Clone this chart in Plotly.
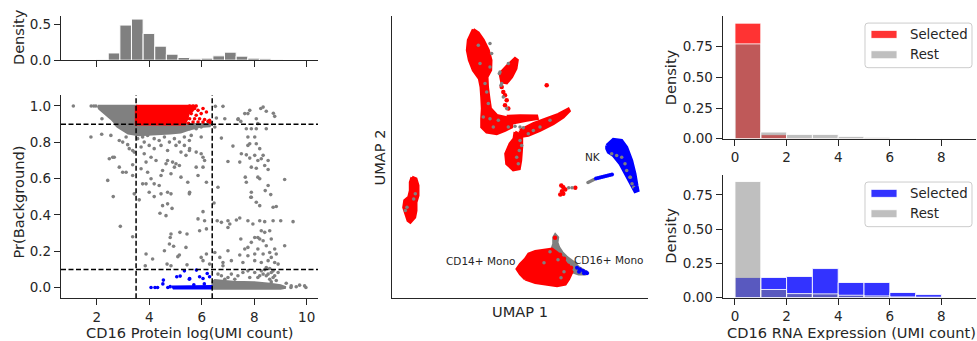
import numpy as np
import plotly.graph_objects as go

W, H = 977, 341          # reference picture size
H_FIG = 350              # page height (the capture is squeezed back to 341)
SY = H_FIG / H
FONT = "DejaVu Sans"
TXT = "#262626"

# ---------------- data: protein histogram (top left) ----------------
protein_bin_start = 1.11
protein_bin_width = 0.443
protein_density = [0.004, 0.004, 0.005, 0.100, 0.486, 0.569, 0.370, 0.194, 0.083, 0.037,
                   0.019, 0.028, 0.060, 0.111, 0.056, 0.028, 0.019, 0.005, 0.004, 0.004]

# ---------------- data: protein vs Pr(background) scatter ----------------
thr_protein_low = 3.5
thr_protein_high = 6.4
thr_prob_low = 0.1
thr_prob_high = 0.9

# dense clouds (outlines)
gray_block_x = [2.05, 3.5, 3.5, 2.75, 2.55, 2.3, 2.1]
gray_block_y = [1.0, 1.0, 0.9, 0.9, 0.93, 0.958, 0.985]
gray_band_x = [2.7, 6.35, 6.3, 5.9, 5.5, 5.2, 4.8, 4.2, 3.6, 3.2, 2.95, 2.8]
gray_band_y = [0.9, 0.9, 0.89, 0.885, 0.87, 0.855, 0.85, 0.845, 0.84, 0.85, 0.87, 0.885]
gray_floor_x = [6.42, 9.0, 9.2, 9.0, 8.6, 8.0, 7.2, 6.8, 6.5, 6.42]
gray_floor_y = [-0.006, -0.006, 0.0, 0.012, 0.02, 0.028, 0.03, 0.035, 0.04, 0.03]
red_block_x = [3.5, 5.75, 5.65, 5.5, 5.45, 5.35, 3.5]
red_block_y = [1.0, 1.0, 0.975, 0.96, 0.93, 0.9, 0.9]
blue_floor_x = [4.9, 6.38, 6.38, 4.9]
blue_floor_y = [-0.006, -0.006, 0.008, 0.006]

gray_points = [
    (1.11, 1.0), (1.79, 1.0), (1.89, 1.0), (1.97, 1.0), (2.2, 0.93), (1.78, 0.829), (2.19, 0.844), (2.54, 0.838),
    (2.61, 0.718), (2.67, 0.718), (2.48, 0.709), (3.18, 0.787), (3.24, 0.765), (3.37, 0.755), (3.43, 0.746),
    (2.86, 0.663), (2.99, 0.635), (3.12, 0.635), (3.37, 0.676), (3.37, 0.617), (2.42, 0.59), (2.63, 0.501),
    (3.43, 0.516), (3.69, 0.774), (3.81, 0.801), (4.0, 0.783), (4.07, 0.718), (3.88, 0.691), (3.69, 0.654),
    (3.94, 0.635), (4.07, 0.599), (3.75, 0.571), (3.88, 0.571), (4.0, 0.525), (4.19, 0.571), (4.38, 0.562),
    (4.45, 0.617), (4.51, 0.645), (4.64, 0.682), (4.70, 0.7), (4.83, 0.627), (4.89, 0.691), (4.96, 0.663),
    (5.02, 0.682), (5.15, 0.672), (4.70, 0.525), (4.83, 0.516), (5.21, 0.746), (5.34, 0.783), (5.40, 0.728),
    (5.53, 0.755), (5.47, 0.58), (5.53, 0.516), (5.21, 0.608), (4.45, 0.516), (4.26, 0.7),
    (2.86, 0.81), (2.99, 0.801), (3.12, 0.829), (3.56, 0.82), (3.75, 0.829), (3.94, 0.838), (4.19, 0.82),
    (4.38, 0.81), (4.58, 0.829), (4.77, 0.801), (4.96, 0.82), (5.15, 0.801), (5.34, 0.829), (5.53, 0.81),
    (4.19, 0.765), (4.45, 0.783), (4.70, 0.755), (5.02, 0.783), (3.81, 0.737),
    (5.54, 0.875), (5.67, 0.884), (5.79, 0.875), (5.98, 0.884), (5.6, 0.838), (5.98, 0.829), (5.54, 0.765),
    (5.79, 0.746), (5.98, 0.737), (6.05, 0.718), (5.79, 0.663), (6.05, 0.663), (5.86, 0.617), (6.18, 0.58),
    (6.11, 0.7), (5.54, 0.525),
    (6.52, 0.998), (6.81, 0.998), (6.56, 0.934), (6.88, 0.93), (6.50, 0.884), (6.75, 0.823), (7.38, 0.926),
    (7.49, 0.915), (7.64, 0.958), (7.76, 0.958), (7.83, 0.976), (8.08, 0.93), (8.25, 0.986), (8.34, 0.994),
    (8.46, 0.971), (8.78, 0.943), (7.70, 0.875), (7.89, 0.875), (8.08, 0.875), (8.46, 0.875), (8.14, 0.903),
    (7.76, 0.829), (8.02, 0.829), (7.19, 0.779), (7.83, 0.792), (7.76, 0.783), (8.08, 0.792), (8.21, 0.765),
    (7.51, 0.737), (7.70, 0.731), (7.83, 0.713), (8.02, 0.728), (8.14, 0.7), (8.34, 0.728), (8.27, 0.709),
    (8.53, 0.7), (7.0, 0.694), (7.45, 0.691), (7.89, 0.663), (8.08, 0.657), (8.40, 0.672), (8.53, 0.65),
    (7.66, 0.608), (7.70, 0.58), (8.14, 0.608), (8.21, 0.599), (8.53, 0.562), (9.16, 0.595), (6.62, 0.552),
    (7.89, 0.525), (7.87, 0.497), (8.42, 0.534), (8.63, 0.512), (8.73, 0.96), (7.39, 0.93),
    (2.90, 0.337), (3.37, 0.28), (3.62, 0.483), (4.19, 0.501), (4.51, 0.451), (4.70, 0.461),
    (4.87, 0.436), (4.41, 0.409), (4.64, 0.396), (4.83, 0.295), (4.80, 0.276), (5.17, 0.304), (5.44, 0.295),
    (4.77, 0.24), (4.93, 0.227), (4.58, 0.203), (5.40, 0.221), (3.88, 0.185), (4.13, 0.157), (5.09, 0.17),
    (5.15, 0.179), (4.68, 0.129), (4.83, 0.12), (3.85, 0.12), (5.44, 0.125),
    (6.05, 0.418), (5.86, 0.378), (6.11, 0.368), (5.92, 0.313), (6.18, 0.323), (5.98, 0.166), (6.05, 0.148),
    (6.18, 0.185), (6.30, 0.129),
    (7.89, 0.497), (6.47, 0.466), (8.08, 0.47), (8.21, 0.451), (8.72, 0.442), (8.84, 0.446), (6.75, 0.359),
    (6.59, 0.368), (7.0, 0.368), (7.07, 0.35), (7.32, 0.372), (7.45, 0.383), (7.0, 0.331), (7.76, 0.368),
    (8.21, 0.368), (7.95, 0.35), (8.40, 0.363), (8.72, 0.368), (9.01, 0.368), (9.48, 0.363), (8.27, 0.313),
    (8.40, 0.304), (8.59, 0.313), (7.49, 0.267), (8.02, 0.276), (8.14, 0.276), (8.21, 0.267), (7.89, 0.249),
    (8.34, 0.258), (8.65, 0.267), (8.46, 0.23), (8.78, 0.212), (9.16, 0.23), (7.76, 0.221), (7.64, 0.212),
    (8.14, 0.212), (7.45, 0.179), (7.76, 0.175), (8.02, 0.185), (8.34, 0.185), (8.59, 0.193), (8.84, 0.185),
    (6.50, 0.193), (6.69, 0.166), (7.0, 0.203), (6.81, 0.138), (6.81, 0.12), (7.13, 0.148), (7.57, 0.138),
    (8.02, 0.148), (8.27, 0.138), (8.53, 0.148), (8.65, 0.166), (8.78, 0.138), (8.91, 0.129),
    (6.62, 0.074), (6.75, 0.065), (7.0, 0.055), (7.13, 0.074), (7.38, 0.065), (7.57, 0.083), (7.76, 0.092),
    (8.02, 0.083), (8.27, 0.092), (8.46, 0.11), (8.53, 0.074), (8.72, 0.092), (8.78, 0.065), (8.91, 0.083),
    (8.14, 0.055), (7.83, 0.055), (7.26, 0.046), (6.88, 0.046), (8.59, 0.046), (8.65, 0.031), (9.22, 0.024),
    (9.41, 0.009), (9.73, 0.013), (9.92, 0.009), (9.97, 0.0), (8.40, 0.098), (8.59, 0.105), (8.65, 0.083),
    (8.34, 0.074), (8.46, 0.065), (8.21, 0.065), (8.72, 0.055), (8.84, 0.039), (9.4, 0.0), (9.6, 0.004),
]
red_points = [
    (5.54, 1.0), (5.67, 1.0), (5.79, 1.0), (5.73, 0.986), (5.86, 0.976), (6.05, 0.986), (5.98, 0.958),
    (6.18, 0.967), (5.60, 0.958), (5.79, 0.949), (5.54, 0.93), (5.73, 0.93), (5.92, 0.93), (6.11, 0.926),
    (6.24, 0.915), (6.30, 0.921), (6.05, 0.912), (5.67, 0.912), (5.86, 0.912), (6.32, 0.91), (5.5, 0.905),
]
blue_points = [
    (4.07, 0.0), (4.22, 0.0), (4.32, 0.0), (4.52, 0.02), (4.54, 0.041), (4.71, 0.0), (4.8, 0.005),
    (5.05, 0.059), (5.18, 0.063), (5.34, 0.092), (5.53, 0.046), (5.54, 0.05), (5.80, 0.096), (5.92, 0.059),
    (6.05, 0.05), (6.21, 0.077), (6.30, 0.059), (6.1, 0.02), (5.7, 0.015),
]

# ---------------- data: UMAP embedding ----------------
umapA1_u1 = [8.13, 8.63, 9.13, 9.63, 9.9, 9.87, 9.5, 9.55, 9.7, 9.85, 10.47, 11.47, 11.97, 11.97, 11.3,
             10.47, 9.47, 8.97, 8.97, 9.03, 8.97, 8.9, 8.73, 8.13, 7.73, 7.53, 7.63]
umapA1_u2 = [26.77, 26.43, 25.7, 24.7, 23.7, 22.7, 22.03, 21.03, 19.87, 18.87, 18.2, 17.97, 17.7, 17.03, 16.7,
             16.37, 16.53, 17.03, 17.87, 18.87, 20.03, 21.03, 21.87, 22.7, 23.7, 24.7, 25.7]
umapA2_u1 = [11.47, 12.8, 14.47, 14.53, 13.47, 12.47, 11.8]
umapA2_u2 = [18.1, 18.17, 18.13, 17.87, 17.7, 17.53, 17.37]
umapA3_u1 = [12.8, 14.13, 15.47, 16.63, 17.63, 17.73, 17.13, 16.13, 14.8, 13.63, 12.97]
umapA3_u2 = [16.7, 17.37, 17.87, 18.3, 18.83, 18.63, 18.03, 17.37, 16.7, 16.2, 16.1]
umapA4_u1 = [12.3, 12.97, 12.97, 12.87, 12.73, 12.13, 11.47, 11.37, 11.8, 12.2]
umapA4_u2 = [16.53, 16.2, 15.03, 13.7, 12.87, 12.77, 13.37, 14.37, 15.37, 15.87]
umapA5_u1 = [10.8, 11.47, 12.3, 12.53, 12.4, 11.97, 11.47, 10.97]
umapA5_u2 = [22.37, 23.1, 23.87, 23.7, 22.87, 22.03, 21.43, 21.53]
umapL_u1 = [2.0, 2.4, 2.6, 2.6, 2.4, 2.4, 2.27, 1.83, 1.6, 1.4, 1.17, 1.27, 1.67, 1.83, 1.83]
umapL_u2 = [12.03, 11.87, 11.2, 10.2, 9.53, 8.7, 8.03, 7.53, 7.7, 8.37, 9.03, 9.7, 10.03, 10.7, 11.53]
umapMono_u1 = [13.33, 12.83, 12.5, 12.83, 13.33, 13.67, 14.33, 15.33, 16.0, 16.5, 17.0, 17.5, 18.0, 17.67,
               17.33, 16.5, 15.5, 14.33]
umapMono_u2 = [1.87, 2.37, 2.87, 3.37, 3.87, 4.37, 4.63, 4.77, 4.87, 4.5, 4.0, 3.3, 2.6, 1.87, 1.37, 1.2,
               1.37, 1.53]
umapMonoTail_u1 = [16.0, 16.17, 16.17, 16.33, 16.57, 16.5, 16.67, 17.0, 17.5, 18.17, 18.67, 19.17, 19.5,
                   19.33, 18.67, 18.0, 17.5, 17.0, 16.5]
umapMonoTail_u2 = [4.87, 5.37, 6.03, 6.3, 6.03, 5.53, 5.03, 4.53, 4.03, 3.53, 3.03, 2.7, 2.53, 2.37, 2.37,
                   2.6, 3.3, 4.0, 4.5]
umapNK_u1 = [21.47, 22.13, 22.97, 23.47, 23.97, 24.3, 24.5, 24.6, 24.3, 23.9, 23.33, 23.0, 22.8, 22.13,
             21.63, 21.47]
umapNK_u2 = [15.2, 15.8, 15.7, 15.03, 13.7, 12.37, 11.2, 10.7, 10.6, 11.3, 12.37, 13.0, 13.37, 14.2,
             14.53, 14.87]

umap_gray_points = [
    (9.8, 25.37), (9.97, 24.37), (9.8, 23.03), (10.8, 22.53), (10.73, 22.37), (11.63, 23.37), (10.97, 21.37),
    (9.3, 21.37), (9.47, 20.53), (9.63, 19.37), (9.13, 18.03), (9.8, 17.87), (10.63, 17.7), (10.13, 17.03),
    (11.63, 17.03), (12.3, 17.1), (12.8, 17.03), (13.13, 16.97), (13.63, 16.37), (14.13, 16.7), (14.8, 17.03),
    (15.8, 17.7), (12.8, 15.7), (12.97, 15.2), (12.73, 14.7), (12.47, 14.03), (12.63, 13.37), (8.63, 25.2),
    (8.8, 23.37), (10.9, 21.2), (11.13, 20.03), (11.47, 18.87),
    (17.67, 10.97), (18.0, 10.97),
    (2.17, 9.87), (2.33, 10.37), (1.5, 9.03), (1.33, 8.7),
    (21.97, 14.37), (22.47, 14.2), (22.97, 14.03), (23.3, 13.37), (23.47, 12.7), (23.8, 12.03), (24.0, 11.37),
    (24.17, 11.03), (23.83, 12.03),
    (19.6, 11.5), (19.75, 11.58), (19.9, 11.65), (20.05, 11.72), (20.2, 11.8),
    (15.8, 4.6), (16.6, 3.8), (17.2, 2.6), (16.9, 2.0), (15.2, 3.5),
]
umap_red_points = [
    (15.47, 21.2), (16.93, 11.2), (17.13, 11.03), (17.33, 10.8), (17.0, 10.63), (17.13, 10.37), (16.83, 10.3),
    (18.33, 10.97), (10.97, 21.03), (11.13, 20.53), (11.3, 20.2), (11.47, 19.7), (11.3, 19.2), (11.63, 18.87),
    (16.3, 6.0), (17.2, 3.9), (16.8, 4.3), (17.6, 3.2), (17.9, 3.0),
]
umap_blue_points = [
    (20.4, 11.9), (20.6, 11.95), (20.8, 12.0), (21.0, 12.05), (21.2, 12.1), (21.4, 12.15), (21.6, 12.2),
    (21.8, 12.25), (22.0, 12.3), (24.33, 10.87),
    (18.5, 3.0), (18.8, 2.85), (19.1, 2.7), (19.4, 2.55), (18.7, 2.6), (19.2, 2.45), (19.5, 2.45),
]
umap_labels = ["NK", "CD14+ Mono", "CD16+ Mono"]
umap_label_u1 = [20.07, 8.8, 21.63]
umap_label_u2 = [14.03, 3.7, 3.8]

# ---------------- data: RNA histograms (right) ----------------
rna_bin_edges = [0, 1, 2, 3, 4, 5, 6, 7, 8, 9]
rna_sel_top = [0.942, 0.033, 0.003, 0.002, 0.001, 0.001, 0.0, 0.0, 0.0]
rna_rest_top = [0.773, 0.054, 0.035, 0.035, 0.019, 0.011, 0.003, 0.002, 0.001]
rna_sel_bottom = [0.147, 0.147, 0.154, 0.212, 0.110, 0.110, 0.037, 0.022, 0.0]
rna_rest_bottom = [0.848, 0.059, 0.029, 0.027, 0.017, 0.012, 0.005, 0.003, 0.002]


# ---------------- helpers (reference pixels -> paper fractions) ----------------
def PX(x):
    return x / W


def PY(y):
    return 1 - (y * SY) / H_FIG


def xd(a, b):
    return [PX(a), PX(b)]


def yd(top, bottom):
    return [PY(bottom), PY(top)]


def join_polys(*polys):
    xs, ys = [], []
    for px, py in polys:
        xs += list(px) + [px[0], None]
        ys += list(py) + [py[0], None]
    return xs, ys


def unzip(points):
    return [p[0] for p in points], [p[1] for p in points]


fig = go.Figure()

# top-left histogram
centers = protein_bin_start + protein_bin_width * (np.arange(len(protein_density)) + 0.5)
fig.add_trace(go.Bar(x=centers, y=protein_density, width=protein_bin_width,
                     marker=dict(color="#808080", line=dict(color="white", width=1)),
                     xaxis="x", yaxis="y", showlegend=False))


def poly_trace(polys, color, width, ax, ay):
    xs, ys = join_polys(*polys)
    return go.Scatter(x=xs, y=ys, mode="lines", fill="toself", fillcolor=color,
                      line=dict(color=color, width=width), xaxis=ax, yaxis=ay,
                      showlegend=False, hoverinfo="skip")


def pts_trace(points, color, size, ax, ay):
    xs, ys = unzip(points)
    return go.Scatter(x=xs, y=ys, mode="markers", marker=dict(color=color, size=size, line=dict(width=0)),
                      xaxis=ax, yaxis=ay, showlegend=False)


GRAY = "#808080"
RED = "#ff0000"
BLUE = "#0000ff"

fig.add_trace(poly_trace([(gray_block_x, gray_block_y), (gray_band_x, gray_band_y),
                          (gray_floor_x, gray_floor_y)], GRAY, 2.5, "x2", "y2"))
fig.add_trace(pts_trace(gray_points, GRAY, 3.6, "x2", "y2"))
fig.add_trace(poly_trace([(red_block_x, red_block_y)], RED, 2.5, "x2", "y2"))
fig.add_trace(pts_trace(red_points, RED, 3.6, "x2", "y2"))
fig.add_trace(poly_trace([(blue_floor_x, blue_floor_y)], BLUE, 2.0, "x2", "y2"))
fig.add_trace(pts_trace(blue_points, BLUE, 3.6, "x2", "y2"))

# UMAP
fig.add_trace(poly_trace([(umapMonoTail_u1, umapMonoTail_u2)], GRAY, 3, "x3", "y3"))
fig.add_trace(poly_trace([(umapA1_u1, umapA1_u2), (umapA2_u1, umapA2_u2), (umapA3_u1, umapA3_u2),
                          (umapA4_u1, umapA4_u2), (umapA5_u1, umapA5_u2), (umapL_u1, umapL_u2),
                          (umapMono_u1, umapMono_u2)], RED, 3, "x3", "y3"))
fig.add_trace(pts_trace(umap_red_points, RED, 4.5, "x3", "y3"))
fig.add_trace(poly_trace([(umapNK_u1, umapNK_u2)], BLUE, 3, "x3", "y3"))
fig.add_trace(pts_trace(umap_gray_points, GRAY, 3.5, "x3", "y3"))
fig.add_trace(pts_trace(umap_blue_points, BLUE, 4, "x3", "y3"))

# right histograms
rna_centers = [(a + b) / 2 for a, b in zip(rna_bin_edges[:-1], rna_bin_edges[1:])]
rna_width = rna_bin_edges[1] - rna_bin_edges[0]
EDGE = dict(color="rgba(255,255,255,0.85)", width=1)
fig.add_trace(go.Bar(x=rna_centers, y=rna_sel_top, width=rna_width, marker=dict(color="rgba(255,0,0,0.8)", line=EDGE),
                     xaxis="x4", yaxis="y4", showlegend=False))
fig.add_trace(go.Bar(x=rna_centers, y=rna_rest_top, width=rna_width, marker=dict(color="rgba(128,128,128,0.5)", line=EDGE),
                     xaxis="x4", yaxis="y4", showlegend=False))
fig.add_trace(go.Bar(x=rna_centers, y=rna_sel_bottom, width=rna_width, marker=dict(color="rgba(0,0,255,0.8)", line=EDGE),
                     xaxis="x5", yaxis="y5", showlegend=False))
fig.add_trace(go.Bar(x=rna_centers, y=rna_rest_bottom, width=rna_width, marker=dict(color="rgba(128,128,128,0.5)", line=EDGE),
                     xaxis="x5", yaxis="y5", showlegend=False))

tickfont = dict(family=FONT, size=13.5, color=TXT)
common = dict(showgrid=False, zeroline=False, showline=True, linecolor=TXT, linewidth=1.25,
              ticks="outside", ticklen=6, tickwidth=1.25, tickcolor=TXT, tickfont=tickfont)
xcommon = dict(common, ticklen=6 * SY)
umap_ax = dict(showgrid=False, zeroline=False, showline=True, linecolor=TXT, linewidth=1.25,
               ticks="", showticklabels=False)

fig.update_layout(
    width=W, height=H_FIG, margin=dict(l=0, r=0, t=0, b=0),
    paper_bgcolor="white", plot_bgcolor="white", barmode="overlay", showlegend=False,
    xaxis=dict(domain=xd(61, 318), range=[0.64, 10.43], anchor="y", tickvals=[2, 4, 6, 8, 10],
               showticklabels=False, **xcommon),
    yaxis=dict(domain=yd(15.7, 60), range=[0, 0.615], anchor="x", tickvals=[0, 0.5], tickformat=".1f", **common),
    xaxis2=dict(domain=xd(61, 318), range=[0.64, 10.43], anchor="y2", tickvals=[2, 4, 6, 8, 10], **xcommon),
    yaxis2=dict(domain=yd(95, 297.3), range=[-0.0586, 1.059], anchor="x2",
                tickvals=[0, 0.2, 0.4, 0.6, 0.8, 1.0], tickformat=".1f", **common),
    xaxis3=dict(domain=xd(392, 648), range=[0, 25.6], anchor="y3", **umap_ax),
    yaxis3=dict(domain=yd(16, 297), range=[0, 28.1], anchor="x3", **umap_ax),
    xaxis4=dict(domain=xd(722.7, 976), range=[-0.476, 9.34], anchor="y4", tickvals=[0, 2, 4, 6, 8], **xcommon),
    yaxis4=dict(domain=yd(16, 138.3), range=[0, 1.0], anchor="x4", tickvals=[0, 0.25, 0.5, 0.75],
                tickformat=".2f", **common),
    xaxis5=dict(domain=xd(722.7, 976), range=[-0.476, 9.34], anchor="y5", tickvals=[0, 2, 4, 6, 8], **xcommon),
    yaxis5=dict(domain=yd(174.3, 296.7), range=[0, 0.897], anchor="x5", tickvals=[0, 0.25, 0.5, 0.75],
                tickformat=".2f", **common),
)

DASH = dict(color="black", width=1.5, dash="5px,2.5px")
shapes = []
for t in (thr_protein_low, thr_protein_high):
    shapes.append(dict(type="line", xref="x2", yref="y2 domain", x0=t, x1=t, y0=0, y1=1, line=DASH, layer="above"))
for t in (thr_prob_low, thr_prob_high):
    shapes.append(dict(type="line", xref="x2 domain", yref="y2", x0=0, x1=1, y0=t, y1=t, line=DASH, layer="above"))

annotations = []


def label(text, x, y, size=14.6, angle=0, xanchor="center", **kw):
    annotations.append(dict(text=text, x=PX(x), y=PY(y), xref="paper", yref="paper", showarrow=False,
                            font=dict(family=FONT, size=size, color=TXT), textangle=angle,
                            xanchor=xanchor, yanchor="middle", **kw))


label("Density", 18.5, 37.5, angle=-90)
label("Pr(Background)", 18.5, 201.5, angle=-90)
label("CD16 Protein log(UMI count)", 189.5, 331, height=16, borderpad=0)
label("UMAP 2", 379, 157, angle=-90)
label("UMAP 1", 520, 311)
label("Density", 670.5, 77.5, angle=-90)
label("Density", 670.5, 235.5, angle=-90)
label("CD16 RNA Expression (UMI count)", 851, 331.5, height=16, borderpad=0)

for t, u1, u2 in zip(umap_labels, umap_label_u1, umap_label_u2):
    annotations.append(dict(text=t, x=u1, y=u2, xref="x3", yref="y3", showarrow=False,
                            font=dict(family=FONT, size=10.5, color=TXT), xanchor="center", yanchor="middle"))


def rrect_path(x0, y0, x1, y1, r=3):
    # reference pixel coords (y down) -> paper path with rounded corners
    def P(x, y):
        return f"{PX(x):.5f},{PY(y):.5f}"
    return (f"M {P(x0 + r, y0)} L {P(x1 - r, y0)} Q {P(x1, y0)} {P(x1, y0 + r)} "
            f"L {P(x1, y1 - r)} Q {P(x1, y1)} {P(x1 - r, y1)} L {P(x0 + r, y1)} "
            f"Q {P(x0, y1)} {P(x0, y1 - r)} L {P(x0, y0 + r)} Q {P(x0, y0)} {P(x0 + r, y0)} Z")


def legend_box(top, sel_color):
    shapes.append(dict(type="path", xref="paper", yref="paper", path=rrect_path(865, top, 972, top + 44.5),
                       line=dict(color="#cccccc", width=1), fillcolor="rgba(255,255,255,0.8)", layer="above"))
    for k, (name, col) in enumerate([("Selected", sel_color), ("Rest", "rgba(128,128,128,0.5)")]):
        cy = top + 11.3 + 20.3 * k
        shapes.append(dict(type="rect", xref="paper", yref="paper", x0=PX(871), x1=PX(897),
                           y0=PY(cy + 4), y1=PY(cy - 4), fillcolor=col,
                           line=dict(color="rgba(255,255,255,0.85)", width=1), layer="above"))
        annotations.append(dict(text=name, x=PX(908), y=PY(cy), xref="paper", yref="paper", showarrow=False,
                                font=dict(family=FONT, size=13.3, color=TXT), xanchor="left", yanchor="middle"))


legend_box(23, "rgba(255,0,0,0.8)")
legend_box(181.5, "rgba(0,0,255,0.8)")

fig.update_layout(shapes=shapes, annotations=annotations)

PAGE_FIX = (
    "var d=document.documentElement, b=document.body;"
    "d.style.margin='0';d.style.padding='0';d.style.overflow='hidden';"
    "b.style.margin='0';b.style.padding='0';b.style.overflow='hidden';"
)
fig.write_html("out.html", config={"displayModeBar": False}, post_script=PAGE_FIX)
